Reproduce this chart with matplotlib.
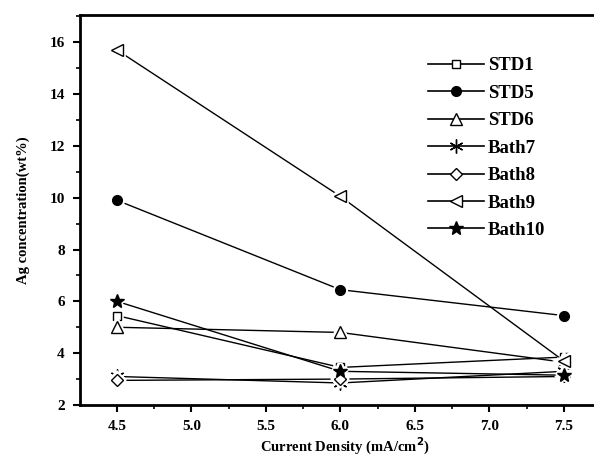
import matplotlib.pyplot as plt
from matplotlib.ticker import MultipleLocator

plt.rcParams['font.family'] = ['Liberation Serif', 'DejaVu Serif']
plt.rcParams['font.weight'] = 'bold'

current_density = [4.5, 6.0, 7.5]
std1 = [5.45, 3.45, 3.85]
std5 = [9.9, 6.45, 5.45]
std6 = [5.0, 4.8, 3.65]
bath7 = [3.1, 2.85, 3.3]
bath8 = [2.95, 3.0, 3.1]
bath9 = [15.7, 10.05, 3.7]
bath10 = [6.0, 3.3, 3.15]

series = [
    ("STD1", std1, 's', 'white', 6),
    ("STD5", std5, 'o', 'black', 7),
    ("STD6", std6, '^', 'white', 8),
    ("Bath7", bath7, (6, 2, 0), 'black', 10),
    ("Bath8", bath8, 'D', 'white', 6),
    ("Bath9", bath9, '<', 'white', 8),
    ("Bath10", bath10, '*', 'black', 10),
]

fig = plt.figure(figsize=(5.94, 4.73), dpi=100)
ax = fig.add_axes([80 / 594, 68 / 473, 530 / 594, 390 / 473])

for name, vals, mk, fc, ms in series:
    ax.plot(current_density, vals, color='black', lw=1.0, label='_nolegend_')
    # white halo so the line stops short of the marker
    ax.plot(current_density, vals, ls='none', marker=mk, markersize=ms,
            markerfacecolor='white', markeredgecolor='white', markeredgewidth=4)
    ax.plot(current_density, vals, color='black', lw=1.0, marker=mk, ls='none',
            markersize=ms, markerfacecolor=fc, markeredgecolor='black',
            markeredgewidth=1.0)
    ax.plot([], [], color='black', lw=1.2, marker=mk, markersize=ms,
            markerfacecolor=fc, markeredgecolor='black', label=name)

ax.set_xlim(4.252, 7.81)
ax.set_ylim(2, 17.05)
ax.xaxis.set_major_locator(MultipleLocator(0.5))
ax.xaxis.set_minor_locator(MultipleLocator(0.25))
ax.yaxis.set_major_locator(MultipleLocator(2))
ax.yaxis.set_minor_locator(MultipleLocator(1))
ax.set_xticks([4.5, 5.0, 5.5, 6.0, 6.5, 7.0, 7.5])
ax.set_xticklabels(["4.5", "5.0", "5.5", "6.0", "6.5", "7.0", "7.5"])
ax.tick_params(which='major', direction='out', length=5, width=1.5, labelsize=11, pad=6)
ax.tick_params(which='minor', direction='out', length=3, width=1.2)
for lab in ax.get_xticklabels() + ax.get_yticklabels():
    lab.set_fontweight('bold')
for sp in ax.spines.values():
    sp.set_linewidth(2)

ax.set_xlabel("Current Density (mA/cm$^\\mathbf{2}$)", fontsize=10.5, fontweight='bold', labelpad=2)
ax.set_ylabel("Ag concentration(wt%)", fontsize=10.5, fontweight='bold', labelpad=14)

ax.legend(loc='upper left', bbox_to_anchor=(0.625, 0.935), frameon=False,
          prop={'family': 'Liberation Serif', 'weight': 'bold', 'size': 13.5},
          handlelength=3.0, handletextpad=0.2, labelspacing=0.55)

fig.savefig("out.png", dpi=100)
